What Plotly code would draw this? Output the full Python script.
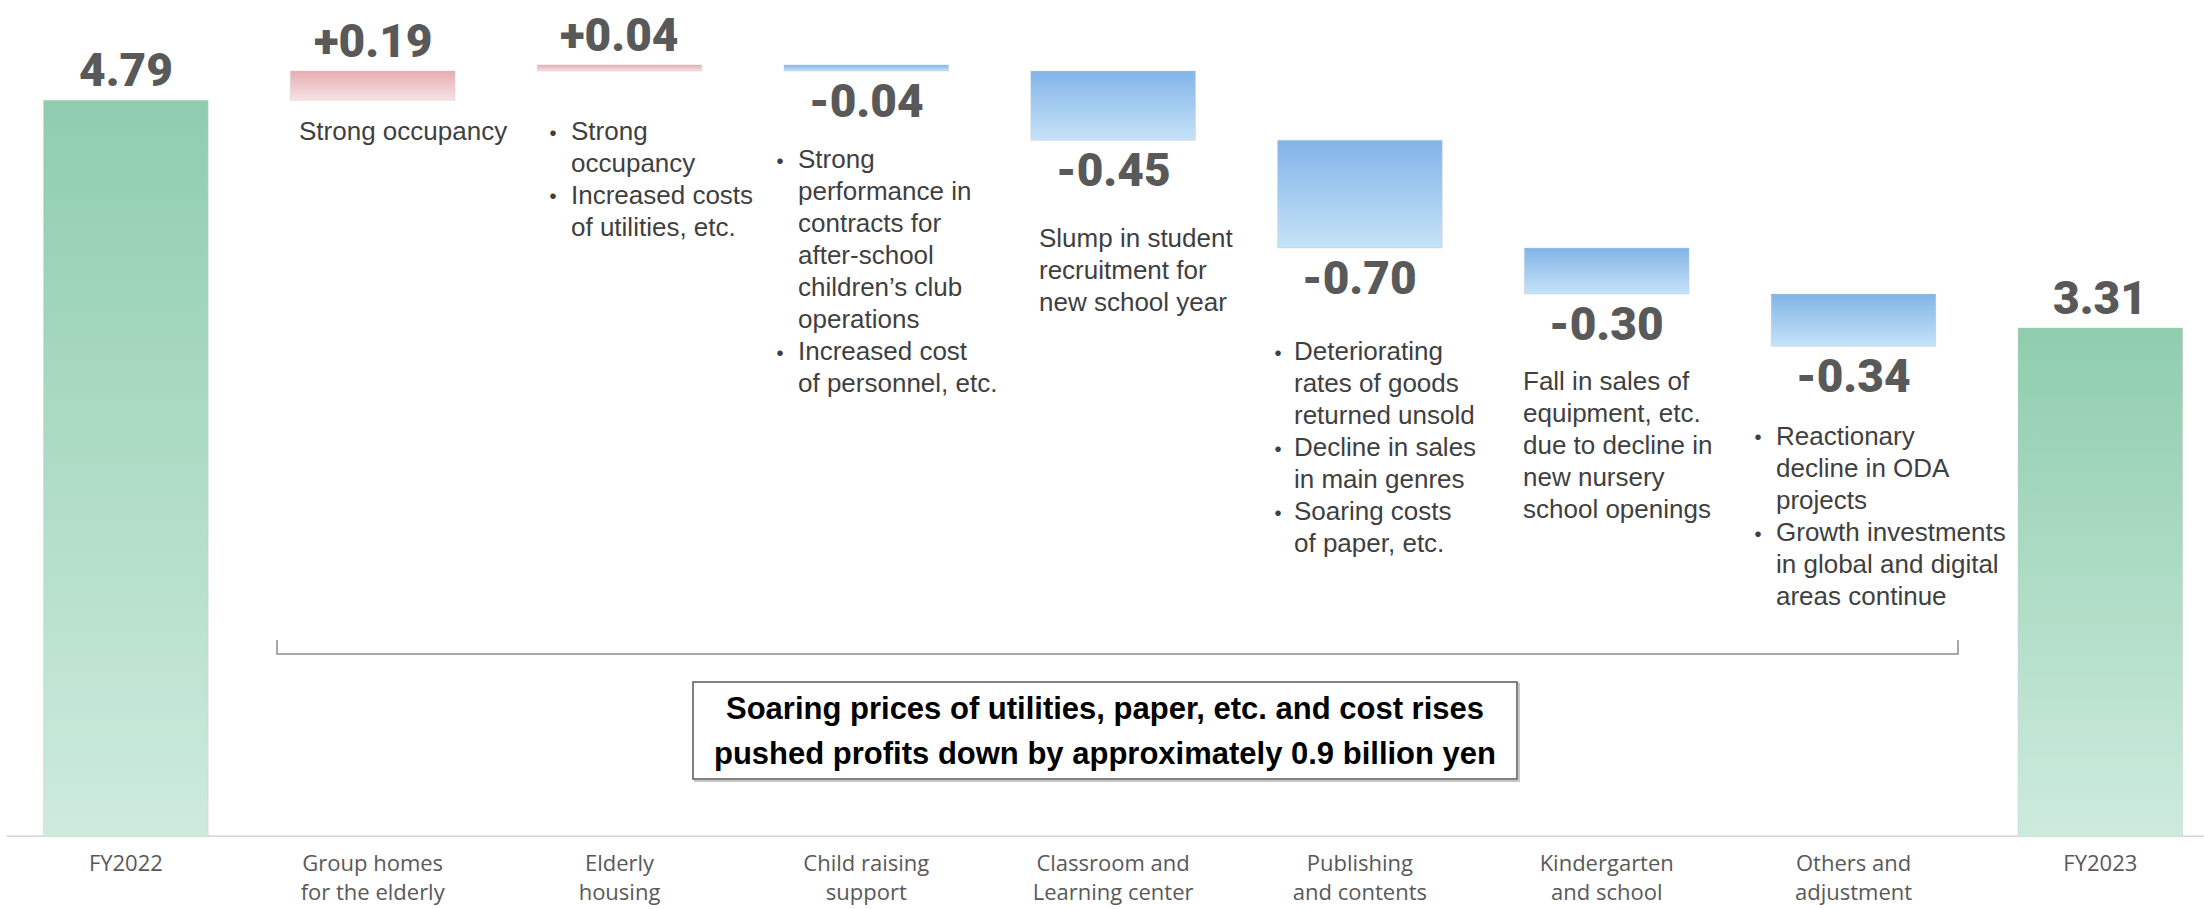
import plotly.graph_objects as go

# ---- data -------------------------------------------------------------
categories = [
    "FY2022",
    "Group homes<br>for the elderly",
    "Elderly<br>housing",
    "Child raising<br>support",
    "Classroom and<br>Learning center",
    "Publishing<br>and contents",
    "Kindergarten<br>and school",
    "Others and<br>adjustment",
    "FY2023",
]
start_value = 4.79
changes = [0.19, 0.04, -0.04, -0.45, -0.70, -0.30, -0.34]
end_value = 3.31

# per-segment notes: (is_bullet, text)
notes_group_homes = [(False, "Strong occupancy")]
notes_elderly = [(True, "Strong"), (False, "occupancy"),
                 (True, "Increased costs"), (False, "of utilities, etc.")]
notes_child = [(True, "Strong"), (False, "performance in"), (False, "contracts for"),
               (False, "after-school"), (False, "children\u2019s club"), (False, "operations"),
               (True, "Increased cost"), (False, "of personnel, etc.")]
notes_classroom = [(False, "Slump in student"), (False, "recruitment for"),
                   (False, "new school year")]
notes_publishing = [(True, "Deteriorating"), (False, "rates of goods"), (False, "returned unsold"),
                    (True, "Decline in sales"), (False, "in main genres"),
                    (True, "Soaring costs"), (False, "of paper, etc.")]
notes_kindergarten = [(False, "Fall in sales of"), (False, "equipment, etc."),
                      (False, "due to decline in"), (False, "new nursery"),
                      (False, "school openings")]
notes_others = [(True, "Reactionary"), (False, "decline in ODA"), (False, "projects"),
                (True, "Growth investments"), (False, "in global and digital"),
                (False, "areas continue")]

summary_lines = ["Soaring prices of utilities, paper, etc. and cost rises",
                 "pushed profits down by approximately 0.9 billion yen"]

# ---- layout constants -------------------------------------------------
W, H = 2204, 909
MARGIN_B = 72
PLOT_H = H - MARGIN_B
PX_PER_UNIT = 153.8
X_RANGE = [-0.51, 8.42]
BAR_W = 0.667

GREEN = [[0, "#cdebdd"], [1, "#8fcdae"]]
RED = [[0, "#f7e2e5"], [1, "#e6adb2"]]
BLUE = [[0, "#c6e3f8"], [1, "#82b4e8"]]

LABEL_FONT = dict(family="Roboto, sans-serif", size=46, color="#595959", weight=900)
NOTE_FONT = dict(family="Liberation Sans, Arial, sans-serif", size=26, color="#3f3f3f")
BULLET_FONT = dict(family="Noto Sans CJK JP, sans-serif", size=26, color="#3f3f3f")
TICK_FONT = dict(family="Open Sans, sans-serif", size=22, color="#595959")
SUMMARY_FONT = dict(family="Liberation Sans, Arial, sans-serif", size=31,
                    color="#000000", weight="bold")


def px_x(px):
    return px / W


def px_y(py):
    return 1 - py / PLOT_H


# ---- bar extents ------------------------------------------------------
lows, highs, palettes, labels = [], [], [], []
lows.append(0.0); highs.append(start_value); palettes.append(GREEN)
labels.append((f"{start_value:.2f}", "up"))
level = start_value
for c in changes:
    new = level + c
    lows.append(min(level, new)); highs.append(max(level, new))
    palettes.append(RED if c > 0 else BLUE)
    labels.append((f"{c:+.2f}", "up" if c > 0 else "down"))
    level = new
lows.append(0.0); highs.append(end_value); palettes.append(GREEN)
labels.append((f"{end_value:.2f}", "up"))

fig = go.Figure()
for i, (lo, hi, pal) in enumerate(zip(lows, highs, palettes)):
    x0, x1 = i - BAR_W / 2, i + BAR_W / 2
    fig.add_trace(go.Scatter(
        x=[x0, x1, x1, x0, x0], y=[lo, lo, hi, hi, lo],
        mode="lines", fill="toself",
        line=dict(width=0.8, color="rgba(200,200,200,0.5)"),
        fillgradient=dict(type="vertical", colorscale=pal),
        hoverinfo="skip", showlegend=False,
    ))

# value labels
for i, (text, side) in enumerate(labels):
    fig.add_annotation(
        x=i, y=highs[i] if side == "up" else lows[i],
        xref="x", yref="y", text=text, showarrow=False,
        yanchor="middle", yshift=30 if side == "up" else -30,
        font=LABEL_FONT,
    )

# explanatory notes: (lines, bullet centre px, text left px, first line centre px)
note_blocks = [
    (notes_group_homes, None, 297, 131),
    (notes_elderly, 553, 569, 131),
    (notes_child, 780, 796, 159),
    (notes_classroom, None, 1037, 238),
    (notes_publishing, 1278, 1292, 351),
    (notes_kindergarten, None, 1521, 381),
    (notes_others, 1758, 1774, 436),
]
LINE_STEP = 32
for lines, bx, tx, y0 in note_blocks:
    for k, (is_bullet, text) in enumerate(lines):
        y = y0 + k * LINE_STEP
        fig.add_annotation(x=px_x(tx), y=px_y(y), xref="paper", yref="paper",
                           text=text, showarrow=False, xanchor="left",
                           yanchor="middle", font=NOTE_FONT)
        if is_bullet:
            fig.add_annotation(x=px_x(bx), y=px_y(y), xref="paper", yref="paper",
                               text="\u30fb", showarrow=False, xanchor="center",
                               yanchor="middle", font=BULLET_FONT)

# bracket grouping the segments
bl, br, btop, bbot = px_x(277), px_x(1958), px_y(640), px_y(654)
fig.add_shape(type="path", xref="paper", yref="paper",
              path=f"M {bl} {btop} L {bl} {bbot} L {br} {bbot} L {br} {btop}",
              line=dict(color="#8a8a8a", width=1.5))

# summary box
fig.add_shape(type="rect", xref="paper", yref="paper",
              x0=px_x(695), x1=px_x(1519), y0=px_y(684), y1=px_y(781),
              line=dict(color="#c8c8c8", width=2), fillcolor="rgba(0,0,0,0)")
fig.add_shape(type="rect", xref="paper", yref="paper",
              x0=px_x(693), x1=px_x(1517), y0=px_y(682), y1=px_y(779),
              line=dict(color="#595959", width=1.5), fillcolor="white")
for k, line in enumerate(summary_lines):
    fig.add_annotation(x=px_x(1105), y=px_y(708 + 45 * k), xref="paper", yref="paper",
                       text=line, showarrow=False, xanchor="center", yanchor="middle",
                       font=SUMMARY_FONT)

# baseline
fig.add_shape(type="line", xref="paper", yref="y", x0=px_x(7), x1=1, y0=0, y1=0,
              line=dict(color="#d4d4d4", width=3), layer="below")

fig.update_layout(
    width=W, height=H,
    margin=dict(l=0, r=0, t=0, b=MARGIN_B, autoexpand=False),
    paper_bgcolor="white", plot_bgcolor="white",
    xaxis=dict(range=X_RANGE, tickmode="array", tickvals=list(range(len(categories))),
               ticktext=categories, showgrid=False, zeroline=False, showline=False,
               ticks="", tickfont=TICK_FONT, ticklabelstandoff=11, automargin=False,
               fixedrange=True),
    yaxis=dict(range=[0, PLOT_H / PX_PER_UNIT], visible=False, fixedrange=True,
               automargin=False),
)

fig.write_html("out.html")
